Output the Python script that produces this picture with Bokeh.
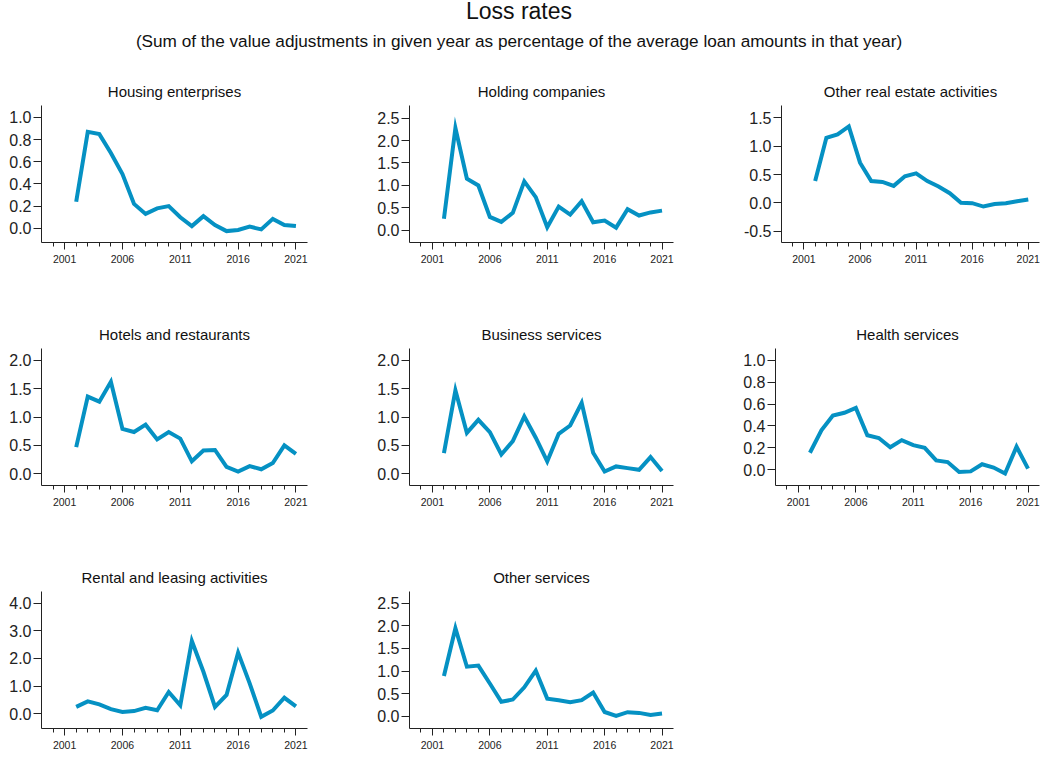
from bokeh.plotting import figure
from bokeh.layouts import column, row
from bokeh.models import Range1d, FixedTicker, NumeralTickFormatter, Div
from bokeh.embed import file_html
from bokeh.resources import INLINE

years = list(range(2002, 2022))

housing = [0.24, 0.87, 0.85, 0.68, 0.49, 0.22, 0.13, 0.18, 0.20, 0.10,
           0.02, 0.11, 0.03, -0.025, -0.015, 0.015, -0.01, 0.085, 0.03, 0.02]
holding = [0.26, 2.28, 1.15, 1.00, 0.30, 0.19, 0.39, 1.09, 0.74, 0.07,
           0.53, 0.35, 0.65, 0.18, 0.22, 0.06, 0.47, 0.33, 0.40, 0.44]
other_re = [0.385, 1.15, 1.21, 1.35, 0.71, 0.385, 0.37, 0.30, 0.47, 0.52,
            0.385, 0.29, 0.17, 0.00, -0.005, -0.065, -0.02, -0.005, 0.03, 0.06]
hotels = [0.47, 1.36, 1.27, 1.62, 0.79, 0.735, 0.865, 0.605, 0.735, 0.62,
          0.22, 0.41, 0.42, 0.12, 0.04, 0.135, 0.08, 0.19, 0.50, 0.35]
business = [0.365, 1.47, 0.72, 0.95, 0.735, 0.34, 0.575, 1.01, 0.635, 0.22,
            0.705, 0.85, 1.25, 0.37, 0.04, 0.13, 0.10, 0.07, 0.295, 0.05]
health = [0.155, 0.36, 0.495, 0.52, 0.565, 0.315, 0.29, 0.205, 0.27, 0.225,
          0.20, 0.085, 0.07, -0.02, -0.015, 0.05, 0.02, -0.035, 0.21, 0.01]
rental = [0.25, 0.45, 0.34, 0.17, 0.07, 0.10, 0.22, 0.13, 0.79, 0.31,
          2.63, 1.52, 0.25, 0.68, 2.21, 1.10, -0.11, 0.12, 0.58, 0.27]
other_serv = [0.89, 1.945, 1.095, 1.12, 0.725, 0.32, 0.37, 0.64, 1.01, 0.39,
              0.355, 0.31, 0.355, 0.525, 0.095, 0.01, 0.09, 0.075, 0.03, 0.06]

titles = ["Housing enterprises", "Holding companies", "Other real estate activities",
          "Hotels and restaurants", "Business services", "Health services",
          "Rental and leasing activities", "Other services"]
series = [housing, holding, other_re, hotels, business, health, rental, other_serv]
y_ranges = [(-0.128, 1.108), (-0.27, 2.78), (-0.70, 1.72),
            (-0.206, 2.206), (-0.206, 2.206), (-0.144, 1.107),
            (-0.53, 4.42), (-0.27, 2.757)]
y_ticks = [[0.0, 0.2, 0.4, 0.6, 0.8, 1.0], [0.0, 0.5, 1.0, 1.5, 2.0, 2.5],
           [-0.5, 0.0, 0.5, 1.0, 1.5], [0.0, 0.5, 1.0, 1.5, 2.0],
           [0.0, 0.5, 1.0, 1.5, 2.0], [0.0, 0.2, 0.4, 0.6, 0.8, 1.0],
           [0.0, 1.0, 2.0, 3.0, 4.0], [0.0, 0.5, 1.0, 1.5, 2.0, 2.5]]
x_major = [2001, 2006, 2011, 2016, 2021]
x_minor = list(range(2000, 2022))

FONT = "Liberation Sans"
LINE_COLOR = "#0591c3"


def make_panel(i, width, height, left, right, bottom):
    p = figure(width=width, height=height, output_backend="svg", toolbar_location=None,
               x_range=Range1d(1999, 2022), y_range=Range1d(*y_ranges[i]),
               min_border_left=left, min_border_right=right,
               min_border_top=43, min_border_bottom=bottom)
    p.title.text = titles[i]
    p.title.align = "center"
    p.title.text_font = FONT
    p.title.text_font_size = "15px"
    p.title.text_font_style = "normal"
    p.title.text_color = "#111111"
    p.title.standoff = 11
    p.outline_line_color = None
    p.grid.visible = False
    p.background_fill_color = None
    p.border_fill_color = None
    p.line(years, series[i], line_width=4, color=LINE_COLOR, line_join="miter")

    xa = p.xaxis[0]
    xa.ticker = FixedTicker(ticks=x_major, minor_ticks=x_minor)
    xa.major_label_text_font = FONT
    xa.major_label_text_font_size = "10.5px"
    xa.major_label_text_color = "#222222"
    xa.major_tick_out = 7
    xa.major_tick_in = 0
    xa.minor_tick_out = 4
    xa.minor_tick_in = 0
    xa.major_label_standoff = 5
    xa.axis_line_color = "#222222"
    xa.major_tick_line_color = "#222222"
    xa.minor_tick_line_color = "#222222"

    ya = p.yaxis[0]
    ya.ticker = FixedTicker(ticks=y_ticks[i])
    ya.formatter = NumeralTickFormatter(format="0.0")
    ya.major_label_text_font = FONT
    ya.major_label_text_font_size = "16px"
    ya.major_label_text_color = "#222222"
    ya.major_tick_out = 8
    ya.major_tick_in = 0
    ya.minor_tick_line_color = None
    ya.major_label_standoff = 2
    ya.axis_line_color = "#222222"
    ya.major_tick_line_color = "#222222"
    return p


header = Div(
    text=(
        '<div style="width:1038px; text-align:center; '
        'font-family:\'Liberation Sans\'; color:#111;">'
        '<div style="font-size:23px; line-height:23px;">Loss rates</div>'
        '<div style="font-size:17.2px; line-height:20px; margin-top:8px;">'
        '(Sum of the value adjustments in given year as percentage of the average loan amounts in that year)'
        '</div></div>'
    ),
    width=1045, height=62, margin=(0, 0, 0, 0),
)

H = 243
rows = []
for r in range(3):
    h = H if r < 2 else 205
    bot = h - 43 - 137
    figs = []
    for c in range(3):
        i = r * 3 + c
        if i >= len(series):
            break
        if c == 0:
            figs.append(make_panel(i, 374, h, 41, 67, bot))
        elif c == 1:
            figs.append(make_panel(i, 366, h, 33, 67, bot))
        else:
            figs.append(make_panel(i, 305, h, 33, 6, bot))
    rows.append(row(*figs))

layout = column(header, *rows)

open("out.html", "w").write(file_html(layout, INLINE))
